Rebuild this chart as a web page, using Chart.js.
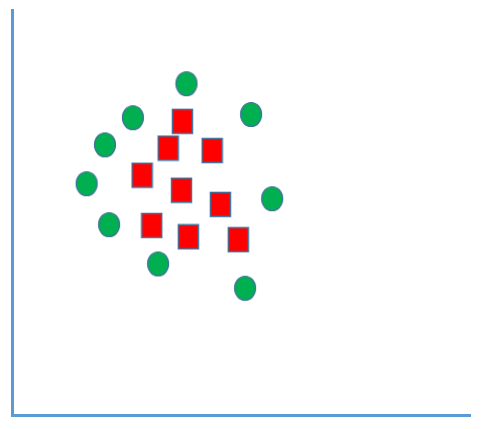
<!DOCTYPE html>
<html>
<head>
<meta charset="utf-8">
<script src="https://cdn.jsdelivr.net/npm/chart.js@4/dist/chart.umd.min.js"></script>
<style>
  body { margin: 0; background: #fff; }
  #wrap { width: 482px; height: 429px; }
</style>
</head>
<body>
<div id="wrap"><canvas id="myChart" width="482" height="429"></canvas></div>
<script>
// green circles (outer ring)
var greenX = [3.81, 2.64, 5.22, 2.03, 1.63, 5.68, 2.12, 3.19, 5.09];
var greenY = [8.18, 7.34, 7.42, 6.67, 5.71, 5.34, 4.70, 3.73, 3.13];
// red squares (inner cluster)
var redX = [3.72, 3.41, 4.37, 2.84, 3.70, 4.55, 3.05, 3.85, 4.94];
var redY = [7.25, 6.59, 6.53, 5.92, 5.55, 5.20, 4.68, 4.40, 4.33];

var xMin = 0, xMax = 10, yMin = 0, yMax = 10;

function toPoints(xs, ys) {
    var pts = [];
    for (var i = 0; i < xs.length; i++) {
        pts.push({ x: xs[i], y: ys[i] });
    }
    return pts;
}

// marker shapes: slightly tall ellipse and tall rectangle
function ellipseMarker() {
    var c = document.createElement('canvas');
    c.width = 24; c.height = 27;
    var g = c.getContext('2d');
    g.beginPath();
    g.ellipse(12, 13.5, 10.5, 12, 0, 0, Math.PI * 2);
    g.fillStyle = '#00B050';
    g.fill();
    g.lineWidth = 1.2;
    g.strokeStyle = '#41719C';
    g.stroke();
    return c;
}
function rectMarker() {
    var c = document.createElement('canvas');
    c.width = 23; c.height = 27;
    var g = c.getContext('2d');
    g.fillStyle = '#FF0000';
    g.fillRect(1.5, 1.5, 20, 24);
    g.lineWidth = 1.5;
    g.strokeStyle = '#41719C';
    g.strokeRect(1.5, 1.5, 20, 24);
    return c;
}

var ctx = document.getElementById('myChart').getContext('2d');
var chart = new Chart(ctx, {
    type: 'scatter',
    data: {
        datasets: [{
            label: 'green',
            data: toPoints(greenX, greenY),
            pointStyle: ellipseMarker(),
            pointRadius: 12
        }, {
            label: 'red',
            data: toPoints(redX, redY),
            pointStyle: rectMarker(),
            pointRadius: 12
        }]
    },
    options: {
        responsive: false,
        animation: false,
        layout: { autoPadding: false, padding: { left: 12, right: 12, top: 10, bottom: 14 } },
        plugins: { legend: { display: false }, tooltip: { enabled: false } },
        scales: {
            x: {
                min: xMin, max: xMax,
                ticks: { display: false },
                grid: { display: false, drawTicks: false },
                border: { display: true, color: '#5B9BD5', width: 3 }
            },
            y: {
                min: yMin, max: yMax,
                ticks: { display: false },
                grid: { display: false, drawTicks: false },
                border: { display: true, color: '#5B9BD5', width: 3 }
            }
        }
    }
});
</script>
</body>
</html>
